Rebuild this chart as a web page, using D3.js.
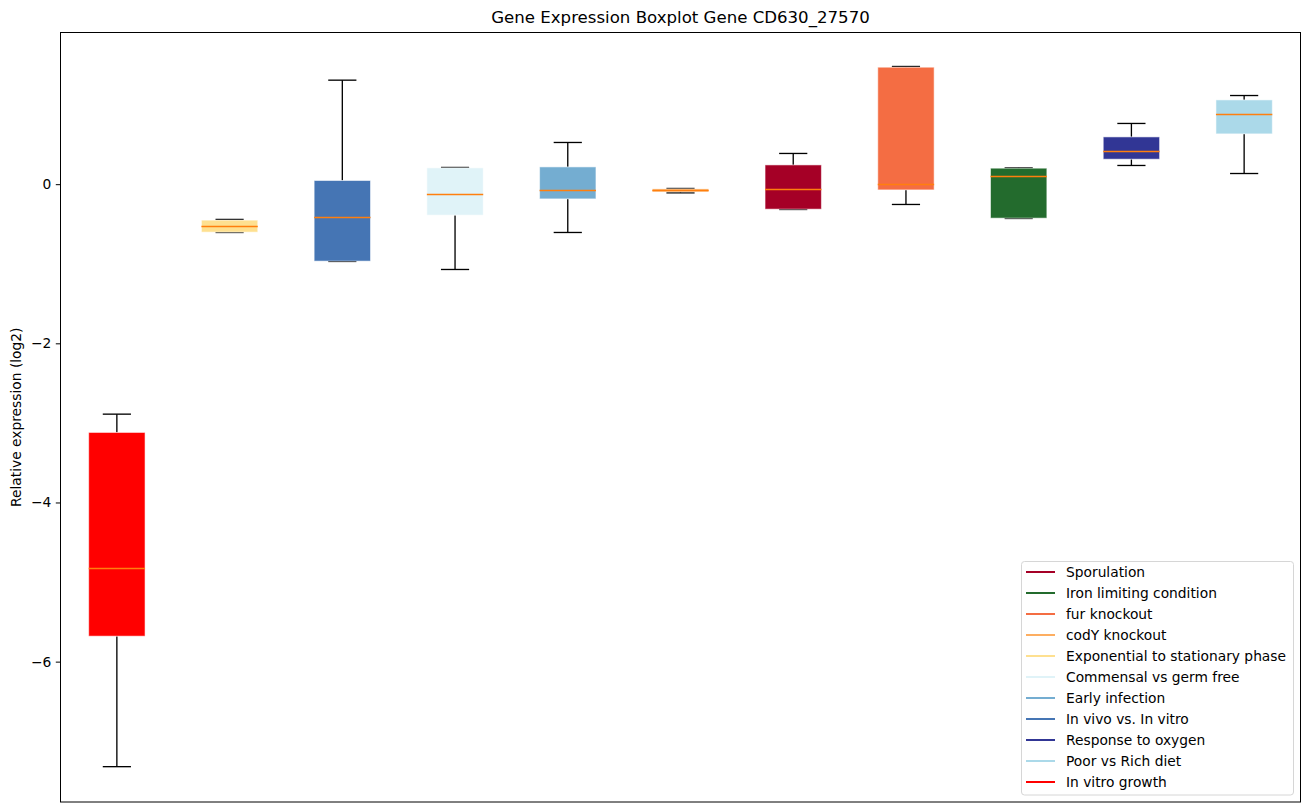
<!DOCTYPE html>
<html>
<head>
<meta charset="utf-8">
<script src="https://cdn.jsdelivr.net/npm/d3@7"></script>
<style>
  html, body { margin: 0; padding: 0; background: #fff; }
  svg { display: block; font-family: "DejaVu Sans", sans-serif; }
</style>
</head>
<body>
<svg id="chart" width="1309" height="812"></svg>
<script>
// ---- data (order as drawn, left to right) ----
const categories = ["In vitro growth", "Exponential to stationary phase", "In vivo vs. In vitro",
  "Commensal vs germ free", "Early infection", "codY knockout", "Sporulation",
  "fur knockout", "Iron limiting condition", "Response to oxygen", "Poor vs Rich diet"];
const whiskerLow  = [-7.32, -0.607, -0.971, -1.072, -0.607, -0.109, -0.318, -0.255, -0.431, 0.235, 0.134];
const q1          = [-5.68, -0.603, -0.967, -0.389, -0.185, -0.097, -0.314, -0.072, -0.427, 0.314, 0.632];
const medians     = [-4.82, -0.524, -0.418, -0.129, -0.067, -0.075, -0.059, -0.004, 0.097, 0.411, 0.888];
const q3          = [-3.12, -0.452, 0.046, 0.205, 0.217, -0.059, 0.242, 1.470, 0.201, 0.594, 1.059];
const whiskerHigh = [-2.89, -0.443, 1.307, 0.210, 0.524, -0.054, 0.386, 1.479, 0.205, 0.763, 1.114];
const colors = ["#ff0000", "#fee090", "#4575b4", "#e0f3f8", "#74add1", "#fdae61", "#a50026",
  "#f46d43", "#236b2d", "#313695", "#abd9e9"];
const legendOrder = ["Sporulation", "Iron limiting condition", "fur knockout", "codY knockout",
  "Exponential to stationary phase", "Commensal vs germ free", "Early infection",
  "In vivo vs. In vitro", "Response to oxygen", "Poor vs Rich diet", "In vitro growth"];
const yTicks = [0, -2, -4, -6];

// ---- layout ----
const svg = d3.select("#chart");
const L = 60.5, R = 1300.5, T = 32.5, B = 802;
const x = d3.scaleLinear().domain([0.5, 11.5]).range([L, R]);
const y = d3.scaleLinear().domain([-7.764, 1.906]).range([B, T]);
const boxW = x(1.25) - x(1);   // half-width of box (0.5 units wide)
const capW = boxW / 2;

const boxes = categories.map((c, i) => ({
  name: c, pos: i + 1, lo: whiskerLow[i], q1: q1[i], med: medians[i], q3: q3[i], hi: whiskerHigh[i], color: colors[i]
}));

const g = svg.append("g");

// whiskers
g.selectAll("line.wlo").data(boxes).join("line")
  .attr("x1", d => x(d.pos)).attr("x2", d => x(d.pos))
  .attr("y1", d => y(d.q1)).attr("y2", d => y(d.lo))
  .attr("stroke", "#000").attr("stroke-width", 1.33);
g.selectAll("line.whi").data(boxes).join("line")
  .attr("x1", d => x(d.pos)).attr("x2", d => x(d.pos))
  .attr("y1", d => y(d.q3)).attr("y2", d => y(d.hi))
  .attr("stroke", "#000").attr("stroke-width", 1.33);
// caps
["lo", "hi"].forEach(k => {
  g.selectAll("line.cap" + k).data(boxes).join("line")
    .attr("x1", d => x(d.pos) - capW).attr("x2", d => x(d.pos) + capW)
    .attr("y1", d => y(d[k])).attr("y2", d => y(d[k]))
    .attr("stroke", "#000").attr("stroke-width", 1.33);
});
// boxes
g.selectAll("rect.box").data(boxes).join("rect")
  .attr("x", d => x(d.pos) - boxW).attr("width", 2 * boxW)
  .attr("y", d => y(d.q3)).attr("height", d => Math.max(0.5, y(d.q1) - y(d.q3)))
  .attr("fill", d => d.color)
  .attr("stroke", "rgba(255,255,255,0.55)").attr("stroke-width", 1);
// medians
g.selectAll("line.med").data(boxes).join("line")
  .attr("x1", d => x(d.pos) - boxW).attr("x2", d => x(d.pos) + boxW)
  .attr("y1", d => Math.round(y(d.med)) + 0.5).attr("y2", d => Math.round(y(d.med)) + 0.5)
  .attr("stroke", "#ff7f0e").attr("stroke-width", 1.5);

// frame
svg.append("rect").attr("x", L).attr("y", T).attr("width", R - L).attr("height", B - T)
  .attr("fill", "none").attr("stroke", "#000").attr("stroke-width", 1);

// y axis
const yAxis = d3.axisLeft(y).tickValues(yTicks).tickSize(4.7).tickPadding(4.5)
  .tickFormat(d => d3.format("d")(d).replace("-", "\u2212"));
const ya = svg.append("g").attr("transform", `translate(${L},0)`).call(yAxis);
ya.select(".domain").remove();
ya.selectAll("text").attr("font-size", 13.8).attr("fill", "#000").attr("font-family", "DejaVu Sans");
ya.selectAll("line").attr("stroke", "#000");

// title
svg.append("text").attr("x", (L + R) / 2).attr("y", 23).attr("text-anchor", "middle")
  .attr("font-size", 16.6).attr("fill", "#000").text("Gene Expression Boxplot Gene CD630_27570");
// y label
svg.append("text").attr("transform", `translate(21,${(T + B) / 2}) rotate(-90)`)
  .attr("text-anchor", "middle").attr("font-size", 13.8).attr("fill", "#000")
  .text("Relative expression (log2)");

// legend
const colorOf = {};
categories.forEach((c, i) => colorOf[c] = colors[i]);
const lg = svg.append("g");
lg.append("rect").attr("x", 1021.5).attr("y", 561.5).attr("width", 272).attr("height", 233.5)
  .attr("rx", 3).attr("fill", "rgba(255,255,255,0.8)").attr("stroke", "#d6d6d6").attr("stroke-width", 1);
const ly = d3.scalePoint().domain(legendOrder).range([572, 782]);
legendOrder.forEach(name => {
  lg.append("line").attr("x1", 1026).attr("x2", 1055).attr("y1", ly(name)).attr("y2", ly(name))
    .attr("stroke", colorOf[name]).attr("stroke-width", 2);
  lg.append("text").attr("x", 1066).attr("y", ly(name)).attr("dy", "0.36em")
    .attr("font-size", 13.8).attr("fill", "#000").text(name);
});
</script>
</body>
</html>
